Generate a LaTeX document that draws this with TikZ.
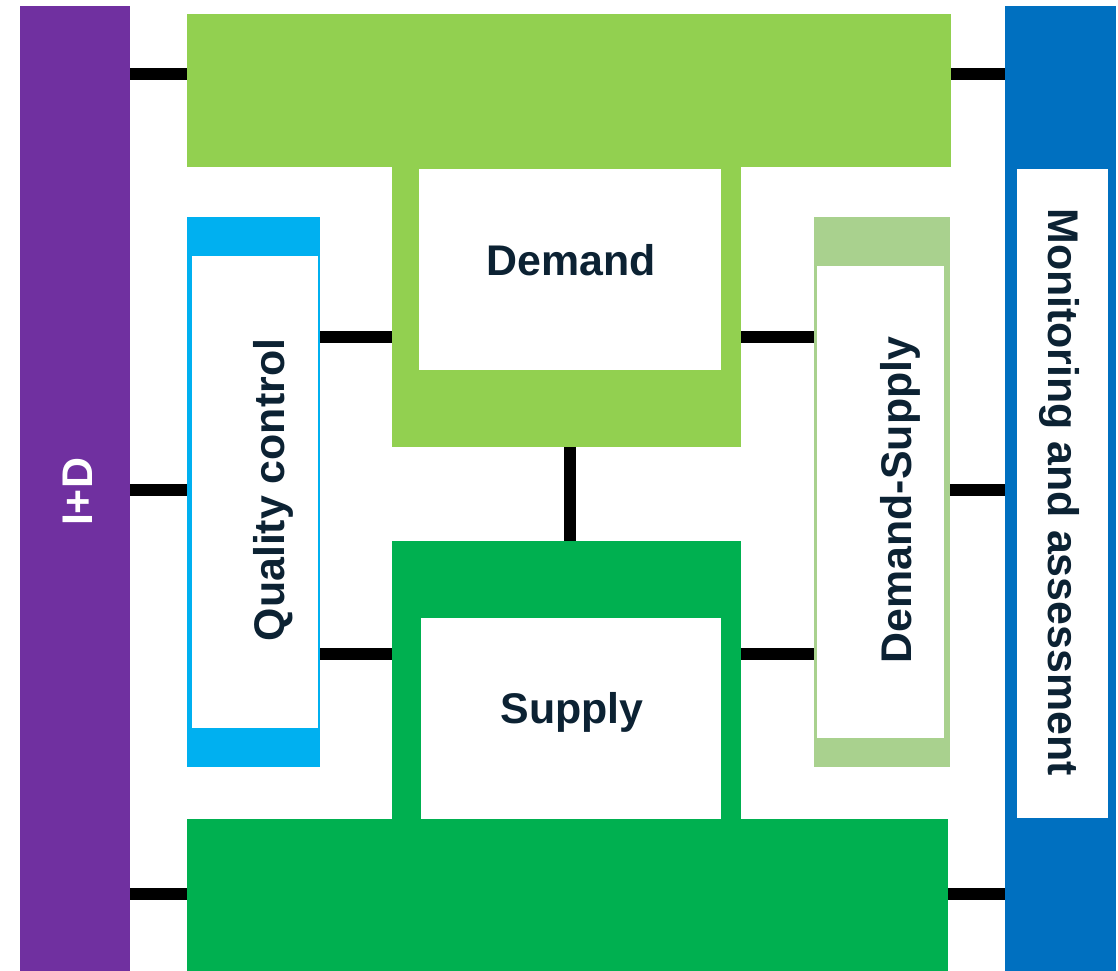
\documentclass[tikz,border=0pt]{standalone}
\usepackage{fontspec}
\setmainfont{Liberation Sans}
\usepackage{tikz}

\definecolor{idpurple}{HTML}{7030A0}
\definecolor{mablue}{HTML}{0070C0}
\definecolor{qcblue}{HTML}{00B0F0}
\definecolor{demgreen}{HTML}{92D050}
\definecolor{supgreen}{HTML}{00B050}
\definecolor{dsgreen}{HTML}{A9D18E}
\definecolor{labelnavy}{HTML}{0C2233}

\begin{document}
\begin{tikzpicture}[
        block/.style={rectangle, inner sep=0, outer sep=0, anchor=north west},
        link/.style={line width=3.4pt, black},
        lbl/.style={font=\bfseries\fontsize{12.2}{14}\selectfont, text=labelnavy, inner sep=0}
    ]
        \useasboundingbox[fill=white] (0, 0) rectangle (11.18, -9.71);

        % side bars
        \node[block, fill=idpurple, minimum width=1.10cm, minimum height=9.65cm] (id) at (0.20, -0.06) {};
        \node[block, fill=mablue, minimum width=1.11cm, minimum height=9.65cm] (ma) at (10.05, -0.06) {};
        \node[block, fill=white, minimum width=0.91cm, minimum height=6.49cm] (maw) at (10.17, -1.69) {};

        % demand frame
        \node[block, fill=demgreen, minimum width=7.64cm, minimum height=1.53cm] (dtop) at (1.87, -0.14) {};
        \node[block, fill=demgreen, minimum width=3.49cm, minimum height=2.84cm] (dcol) at (3.92, -1.63) {};
        \node[block, fill=white, minimum width=3.02cm, minimum height=2.01cm] (dem) at (4.19, -1.69) {};

        % supply frame
        \node[block, fill=supgreen, minimum width=3.49cm, minimum height=2.80cm] (scol) at (3.92, -5.41) {};
        \node[block, fill=supgreen, minimum width=7.61cm, minimum height=1.52cm] (sbot) at (1.87, -8.19) {};
        \node[block, fill=white, minimum width=3.00cm, minimum height=2.01cm] (sup) at (4.21, -6.18) {};

        % quality control and demand-supply
        \node[block, fill=qcblue, minimum width=1.33cm, minimum height=5.50cm] (qc) at (1.87, -2.17) {};
        \node[block, fill=white, minimum width=1.26cm, minimum height=4.72cm] (qcw) at (1.92, -2.56) {};
        \node[block, fill=dsgreen, minimum width=1.36cm, minimum height=5.50cm] (ds) at (8.14, -2.17) {};
        \node[block, fill=white, minimum width=1.27cm, minimum height=4.72cm] (dsw) at (8.17, -2.66) {};

        % labels
        \node[lbl, text=white, rotate=90] at (0.78, -4.92) {I+D};
        \node[lbl, rotate=-90] at (10.59, -4.92) {Monitoring and assessment};
        \node[lbl] at (5.71, -2.60) {Demand};
        \node[lbl] at (5.72, -7.12) {Supply};
        \node[lbl, rotate=90] at (2.73, -4.90) {Quality control};
        \node[lbl, rotate=90] at (9.00, -5.00) {Demand-Supply};

        % connector rows
        \coordinate (r1) at (0, -0.74);
        \coordinate (r2) at (0, -3.37);
        \coordinate (r3) at (0, -4.90);
        \coordinate (r4) at (0, -6.54);
        \coordinate (r5) at (0, -8.94);

        \draw[link] (id.east |- r1) -- (dtop.west |- r1);
        \draw[link] (dtop.east |- r1) -- (ma.west |- r1);
        \draw[link] (qc.east |- r2) -- (dcol.west |- r2);
        \draw[link] (dcol.east |- r2) -- (ds.west |- r2);
        \draw[link] (id.east |- r3) -- (qc.west |- r3);
        \draw[link] (ds.east |- r3) -- (ma.west |- r3);
        \draw[link] (qc.east |- r4) -- (scol.west |- r4);
        \draw[link] (scol.east |- r4) -- (ds.west |- r4);
        \draw[link] (id.east |- r5) -- (sbot.west |- r5);
        \draw[link] (sbot.east |- r5) -- (ma.west |- r5);
        \draw[link] (dcol.south -| dem.south) -- (scol.north -| dem.south);
    \end{tikzpicture}
\end{document}
